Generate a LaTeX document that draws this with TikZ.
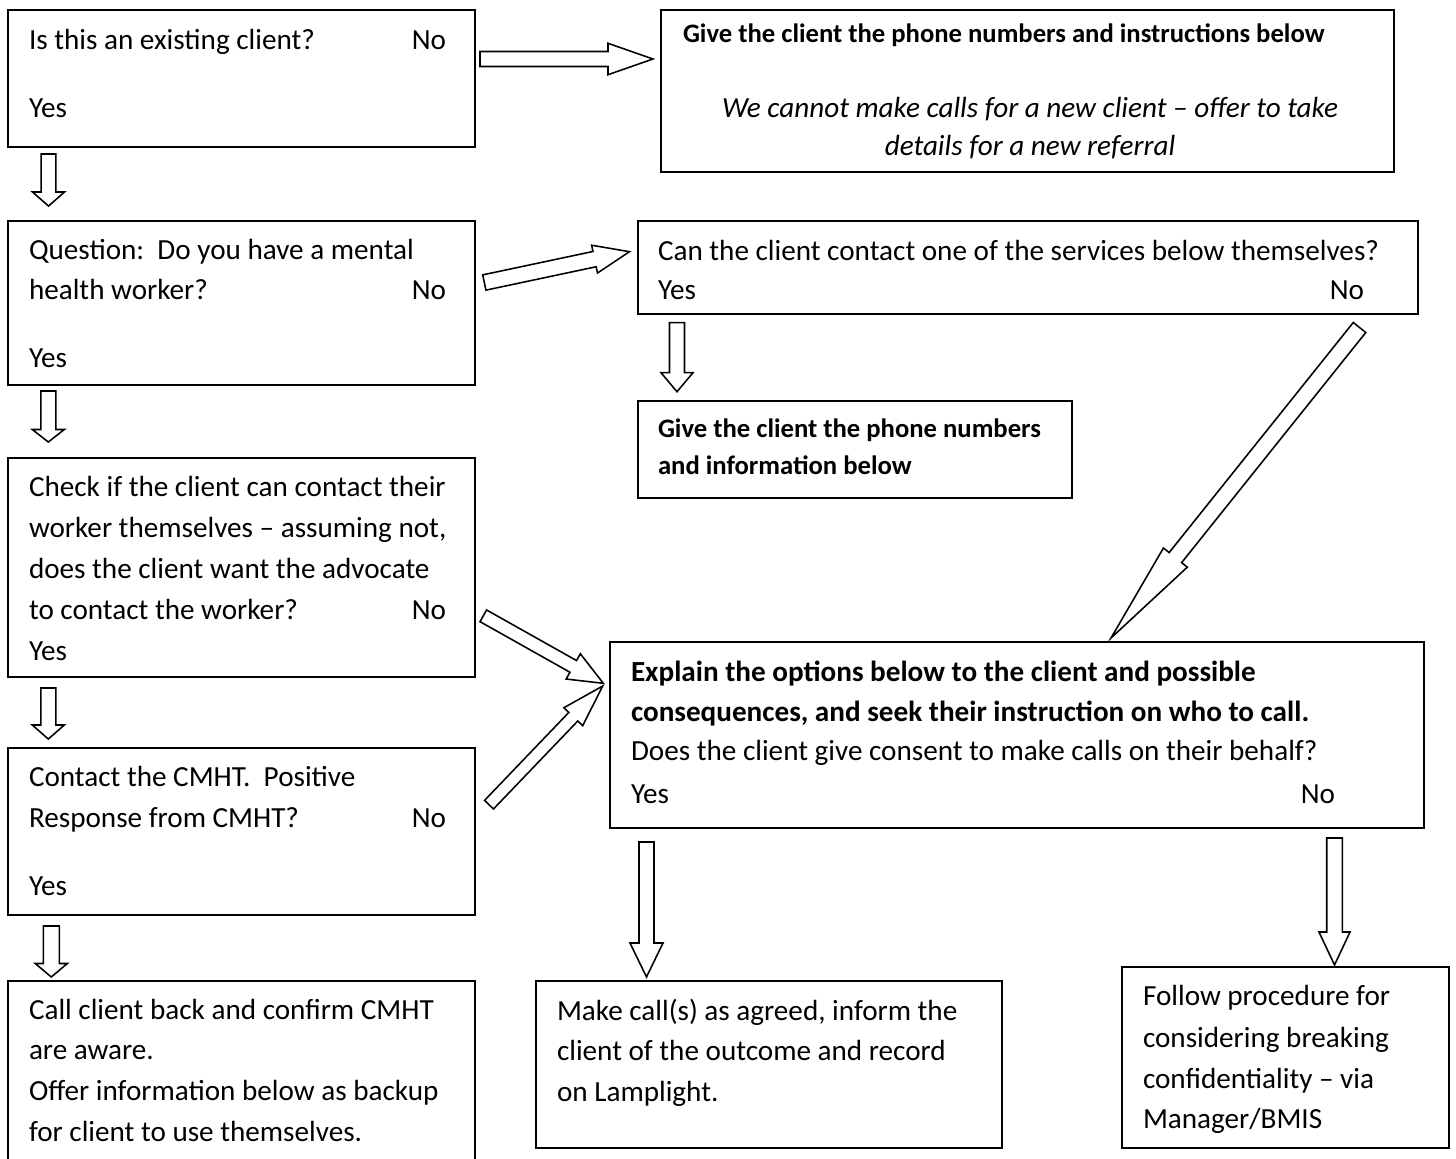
\documentclass[tikz,border=0pt]{standalone}
\usepackage{fontspec}
\setmainfont{Carlito}
\usetikzlibrary{calc}
\frenchspacing
\newcommand\blkarrow[5]{%
  \coordinate (bhtmp) at ($(#2)!#5*0.48pt!(#1)$);
  \draw[arrowline] ($(#1)!#3*0.48pt!90:(#2)$) -- ($(bhtmp)!#3*0.48pt!90:(#2)$)
    -- ($(bhtmp)!#4*0.48pt!90:(#2)$) -- (#2) -- ($(bhtmp)!#4*0.48pt!-90:(#2)$)
    -- ($(bhtmp)!#3*0.48pt!-90:(#2)$) -- ($(#1)!#3*0.48pt!-90:(#2)$) -- cycle;}
\tikzset{
  bx/.style n args={2}{draw=black, line width=0.9pt, inner sep=0pt, outer sep=0pt,
    anchor=north west, minimum width=#1*0.48pt, minimum height=#2*0.48pt},
  arrowline/.style={draw=black, fill=white, line width=0.75pt, line join=miter},
  tx/.style={inner sep=0pt, outer sep=0pt, anchor=base west,
    font=\fontsize{14}{19.7}\selectfont\frenchspacing},
  txr/.style={tx, anchor=base east},
  txc/.style={tx, anchor=base, font=\fontsize{14}{19.7}\selectfont\itshape},
  txbs/.style={tx, font=\fontsize{12.8}{18}\selectfont\bfseries},
  txb/.style={tx, font=\fontsize{14}{19.7}\selectfont\bfseries},
}
\begin{document}
\begin{tikzpicture}[x=0.48pt,y=-0.48pt]
\useasboundingbox[fill=white] (0,0) rectangle (1456,1158);

% boxes
\node[bx={467}{137}] (A) at (8,10) {};
\node[bx={733}{162}] (B) at (661,10) {};
\node[bx={467}{164}] (C) at (8,221) {};
\node[bx={780}{93}]  (D) at (638,221) {};
\node[bx={434}{97}]  (E) at (638,401) {};
\node[bx={467}{219}] (F) at (8,458) {};
\node[bx={467}{167}] (G) at (8,748) {};
\node[bx={814}{186}] (H) at (610,642) {};
\node[bx={467}{200}] (I) at (8,981) {};
\node[bx={466}{167}] (J) at (536,981) {};
\node[bx={327}{181}] (K) at (1122,967) {};

% texts
\node[tx]  (A1) at (29,49) {Is this an existing client?};
\node[txr] (A2) at (446,49) {No};
\node[tx]  (A3) at (29,117) {Yes};

\node[txbs] (B1) at (683,42) {Give the client the phone numbers and instructions below};
\node[txc]  (B2) at (1030,117) {We cannot make calls for a new client – offer to take};
\node[txc]  (B3) at (1030,155) {details for a new referral};

\node[tx]  (C1) at (29,259) {Question:\ \ Do you have a mental};
\node[tx]  (C2) at (29,299) {health worker?};
\node[txr] (C3) at (446,299) {No};
\node[tx]  (C4) at (29,367) {Yes};

\node[tx]  (D1) at (658,260) {Can the client contact one of the services below themselves?};
\node[tx]  (D2) at (658,299) {Yes};
\node[txr] (D3) at (1364,299) {No};

\node[txbs] (E1) at (658,437) {Give the client the phone numbers};
\node[txbs] (E2) at (658,474) {and information below};

\node[tx]  (F1) at (29,496) {Check if the client can contact their};
\node[tx]  (F2) at (29,537) {worker themselves – assuming not,};
\node[tx]  (F3) at (29,578) {does the client want the advocate};
\node[tx]  (F4) at (29,619) {to contact the worker?};
\node[txr] (F5) at (446,619) {No};
\node[tx]  (F6) at (29,660) {Yes};

\node[tx]  (G1) at (29,786) {Contact the CMHT.\ \ Positive};
\node[tx]  (G2) at (29,827) {Response from CMHT?};
\node[txr] (G3) at (446,827) {No};
\node[tx]  (G4) at (29,895) {Yes};

\node[txb] (H1) at (631,681) {Explain the options below to the client and possible};
\node[txb] (H2) at (631,721) {consequences, and seek their instruction on who to call.};
\node[tx]  (H3) at (631,760) {Does the client give consent to make calls on their behalf?};
\node[tx]  (H4) at (631,803) {Yes};
\node[txr] (H5) at (1335,803) {No};

\node[tx] (I1) at (29,1019) {Call client back and confirm CMHT};
\node[tx] (I2) at (29,1059) {are aware.};
\node[tx] (I3) at (29,1100) {Offer information below as backup};
\node[tx] (I4) at (29,1141) {for client to use themselves.};

\node[tx] (J1) at (557,1020) {Make call(s) as agreed, inform the};
\node[tx] (J2) at (557,1060) {client of the outcome and record};
\node[tx] (J3) at (557,1101) {on Lamplight.};

\node[tx] (K1) at (1143,1005) {Follow procedure for};
\node[tx] (K2) at (1143,1047) {considering breaking};
\node[tx] (K3) at (1143,1088) {confidentiality – via};
\node[tx] (K4) at (1143,1128) {Manager/BMIS};

% arrow end points
\coordinate (a1s) at (480,59);     \coordinate (a1e) at (653,59);
\coordinate (a2s) at (48.5,154);   \coordinate (a2e) at (48.5,206);
\coordinate (a3s) at (484.3,282.5);\coordinate (a3e) at (629.5,251.7);
\coordinate (a4s) at (48.3,391);   \coordinate (a4e) at (48.3,442);
\coordinate (a5s) at (677,322.7);  \coordinate (a5e) at (677,391.7);
\coordinate (a6s) at (1359.5,327.5);\coordinate (a6e) at (1111,638);
\coordinate (a7s) at (483.3,615.8);\coordinate (a7e) at (603.3,683.3);
\coordinate (a8s) at (489,804.7);  \coordinate (a8e) at (602.7,686);
\coordinate (a9s) at (48.3,688);   \coordinate (a9e) at (48.3,739);
\coordinate (a10s) at (51.3,926);  \coordinate (a10e) at (51.3,977);
\coordinate (a11s) at (646.5,842); \coordinate (a11e) at (646.5,977);
\coordinate (a12s) at (1334.5,838);\coordinate (a12e) at (1334.5,965);

\blkarrow{a1s}{a1e}{7.5}{15.7}{45}
\blkarrow{a2s}{a2e}{7.3}{16}{14}
\blkarrow{a3s}{a3e}{7.8}{14.2}{35.7}
\blkarrow{a4s}{a4e}{7.5}{16}{12.5}
\blkarrow{a5s}{a5e}{7.5}{16}{19}
\blkarrow{a6s}{a6e}{8}{15.3}{103}
\blkarrow{a7s}{a7e}{6.7}{14.5}{34.5}
\blkarrow{a8s}{a8e}{6.2}{13}{42.5}
\blkarrow{a9s}{a9e}{7.5}{16}{14}
\blkarrow{a10s}{a10e}{8}{16}{13.5}
\blkarrow{a11s}{a11e}{7.5}{16.5}{34}
\blkarrow{a12s}{a12e}{7.8}{15.5}{33}
\end{tikzpicture}
\end{document}
